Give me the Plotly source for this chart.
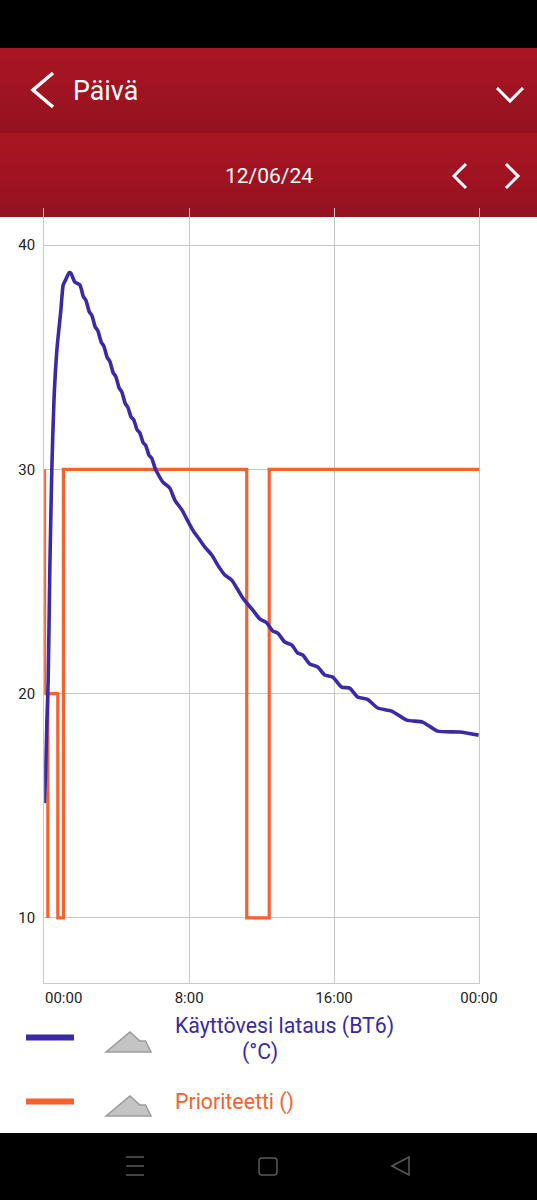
# plot.py
import plotly.graph_objects as go

W, H = 537, 1200

# values
temp_hours = [0.01, 0.07, 0.15, 0.22, 0.31, 0.42, 0.54, 0.70, 0.92, 1.05, 1.18, 1.38, 1.47, 1.69, 1.97,
              2.16, 2.30, 2.49, 2.63, 2.82, 2.96, 3.15, 3.29, 3.48, 3.62, 3.81, 3.95, 4.14, 4.28, 4.47, 4.61,
              4.80, 4.94, 5.13, 5.27, 5.46, 5.60, 5.79, 5.93, 6.12,
              6.22, 6.55, 6.93, 7.21, 7.60, 7.87, 8.20, 8.59, 8.86, 9.25, 9.58, 9.97, 10.35, 10.63,
              10.96, 11.18, 11.51, 11.90, 12.29, 12.62, 12.89, 13.28, 13.66, 13.99, 14.27, 14.66, 15.10,
              15.48, 15.92, 16.42, 16.86, 17.30, 17.85, 18.41, 19.18, 20.01, 20.89, 21.71, 22.93, 23.98]
temp_values = [15.12, 16.37, 18.82, 20.61, 25.5, 29.97, 33.09, 35.32, 37.10, 38.22, 38.44, 38.77, 38.75, 38.35, 38.22,
               37.70, 37.54, 37.02, 36.86, 36.34, 36.18, 35.66, 35.50, 34.98, 34.82, 34.30, 34.14, 33.62, 33.46, 32.94, 32.78,
               32.33, 32.21, 31.76, 31.64, 31.19, 31.07, 30.62, 30.50, 30.05,
               29.88, 29.43, 29.17, 28.63, 28.19, 27.78, 27.29, 26.85, 26.54, 26.18, 25.73, 25.29, 25.06, 24.71,
               24.26, 24.04, 23.73, 23.33, 23.15, 22.79, 22.70, 22.30, 22.17, 21.81, 21.72, 21.32, 21.19,
               20.83, 20.74, 20.29, 20.25, 19.85, 19.74, 19.36, 19.22, 18.82, 18.73, 18.33, 18.29, 18.15]
prio_hours = [0.02, 0.02, 0.20, 0.20, 0.20, 0.75, 0.75, 1.06, 1.06, 11.18, 11.18, 12.42, 12.42, 24.0]
prio_values = [30, 20, 20, 10, 20, 20, 10, 10, 30, 30, 10, 10, 30, 30]

y_ticks = [10, 20, 30, 40]
x_ticks = [0, 8, 16, 24]
x_labels = ["", "8:00", "16:00", "00:00"]
first_label = "00:00"
title = "Päivä"
date_text = "12/06/24"
temp_name = "Käyttövesi lataus (BT6)"
temp_unit = "(°C)"
prio_name = "Prioriteetti ()"

BLUE = "#3A2AA5"
ORANGE = "#F4622F"
GRID = "#C8C8C8"
NAV = "#5A5A5A"
FONT = "Roboto"


# the whole page is one paper area, so pixel positions can be used for the app chrome
def px(x):
    return x / W


def py(y):
    return 1 - y / H


def rect(x0, y0, x1, y1, color):
    return dict(type="rect", xref="paper", yref="paper", x0=px(x0), x1=px(x1), y0=py(y0), y1=py(y1),
                fillcolor=color, line=dict(width=0), layer="below")


def poly(points, color, width, closed=False, fill=None):
    path = "M" + " L".join(f"{px(x):.5f},{py(y):.5f}" for x, y in points) + (" Z" if closed else "")
    return dict(type="path", xref="paper", yref="paper", path=path, fillcolor=fill,
                line=dict(color=color, width=width), layer="below")


def rounded(x0, y0, x1, y1, r, color, width):
    def p(x, y):
        return f"{px(x):.5f},{py(y):.5f}"
    path = (f"M{p(x0 + r, y0)} L{p(x1 - r, y0)} Q{p(x1, y0)} {p(x1, y0 + r)} L{p(x1, y1 - r)} "
            f"Q{p(x1, y1)} {p(x1 - r, y1)} L{p(x0 + r, y1)} Q{p(x0, y1)} {p(x0, y1 - r)} "
            f"L{p(x0, y0 + r)} Q{p(x0, y0)} {p(x0 + r, y0)} Z")
    return dict(type="path", xref="paper", yref="paper", path=path,
                line=dict(color=color, width=width), layer="below")


def text(x, y, s, size, color, anchor="left"):
    return dict(xref="paper", yref="paper", x=px(x), y=py(y), text=s, showarrow=False, xanchor=anchor,
                yanchor="middle", font=dict(family=FONT, size=size, color=color), borderpad=0, borderwidth=0)


def band(y0, y1, steps=14):
    # plotly shapes have no gradient, so the header is built from strips
    # every strip runs down to the band end, that way no seams show between them
    top, bottom = (170, 21, 36), (149, 18, 32)
    out = []
    for i in range(steps):
        t = i / (steps - 1)
        c = tuple(round(a + (b - a) * t) for a, b in zip(top, bottom))
        out.append(rect(0, y0 + (y1 - y0) * i / steps, W, y1, f"rgb{c}"))
    return out


shapes = [rect(0, 0, W, 48, "#000000"), rect(0, 1133, W, H, "#000000")]
shapes += band(48, 133) + band(133, 217)

# header icons
shapes.append(poly([(53, 73), (33, 90), (53, 107)], "white", 3.5))
shapes.append(poly([(497, 88), (510, 101), (523, 88)], "white", 3))
shapes.append(poly([(466, 164), (454, 176), (466, 188)], "white", 3))
shapes.append(poly([(506, 164), (518, 176), (506, 188)], "white", 3))

# legend swatches and mountain icons
for y, color in [(1037.5, BLUE), (1101.5, ORANGE)]:
    shapes.append(rect(26, y - 3, 74, y + 3, color))
    shapes.append(poly([(106, y + 14.5), (130, y - 5.5), (140, y + 3.5), (145.5, y + 3.5), (151, y + 14.5)],
                       "#9A9A9A", 1.5, closed=True, fill="#C4C4C4"))

# navigation bar
for y in (1157, 1166, 1175):
    shapes.append(poly([(126, y), (144, y)], NAV, 1.5))
shapes.append(rounded(259, 1158, 277, 1175, 3, NAV, 1.5))
shapes.append(poly([(392, 1166), (409, 1157), (409, 1175)], NAV, 1.5, closed=True))

annotations = [
    text(73, 91, title, 26.8, "white"),
    text(268.5, 176, date_text, 21, "white", "center"),
    text(45, 998, first_label, 15, "#222222"),
    text(175, 1026, temp_name, 21.3, BLUE),
    text(260, 1052, temp_unit, 21.3, BLUE, "center"),
    text(175, 1102, prio_name, 21.3, ORANGE),
]

fig = go.Figure()
fig.add_trace(go.Scatter(x=prio_hours, y=prio_values, mode="lines", line=dict(color=ORANGE, width=3.2), showlegend=False))
fig.add_trace(go.Scatter(x=temp_hours, y=temp_values, mode="lines",
                         line=dict(color=BLUE, width=3.6, shape="spline", smoothing=0.6), showlegend=False))

fig.update_layout(
    width=W, height=H, margin=dict(l=0, r=0, t=0, b=0, pad=0),
    paper_bgcolor="white", plot_bgcolor="rgba(0,0,0,0)",
    font=dict(family=FONT, size=15, color="#222222"),
    shapes=shapes, annotations=annotations, showlegend=False,
    xaxis=dict(domain=[px(44.2), px(479)], range=[0, 24], tickmode="array", tickvals=x_ticks, ticktext=x_labels,
               showgrid=True, gridcolor=GRID, gridwidth=1, zeroline=False, showline=True, linecolor=GRID, linewidth=1,
               ticks="", ticklabelstandoff=1, tickfont=dict(family=FONT, size=15, color="#222222"),
               fixedrange=True, automargin=False),
    yaxis=dict(domain=[py(983), py(208)], range=[7.1, 41.65], tickmode="array", tickvals=y_ticks,
               showgrid=True, gridcolor=GRID, gridwidth=1, zeroline=False,
               showline=True, mirror=True, linecolor=GRID, linewidth=1,
               ticks="", ticklabelstandoff=5, tickfont=dict(family=FONT, size=15, color="#222222"),
               fixedrange=True, automargin=False),
)

fig.write_html("out.html", config=dict(displayModeBar=False),
               post_script="document.body.style.margin='0';")
